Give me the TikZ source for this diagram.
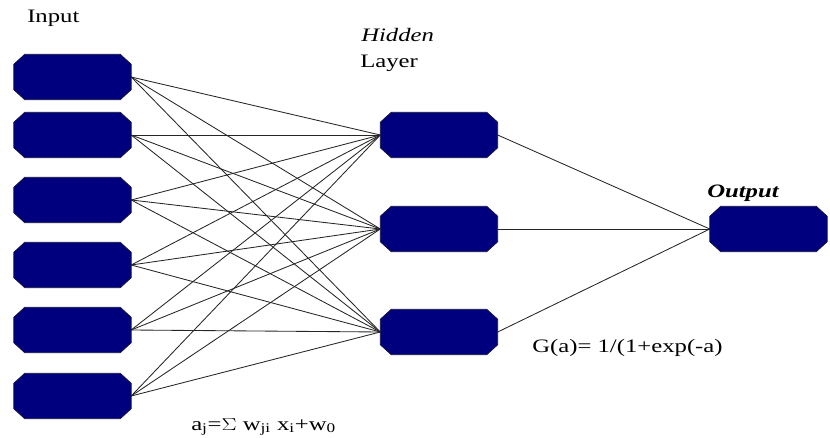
\documentclass[tikz,border=0pt]{standalone}
\usepackage{fontspec}
\setmainfont{Liberation Serif}
\definecolor{cUNIT}{HTML}{00007F}
\definecolor{cEDGE}{HTML}{14143C}
\tikzset{
  unit/.style={
    rectangle,
    inner sep=0pt,
    minimum width=117pt,
    minimum height=45pt
  },
  unitshape/.style={
    draw=cEDGE, line width=0.8pt,
    fill=cUNIT
  },
  link/.style={
    line width=0.85pt,
    draw=black!85
  },
  caption/.style={
    font=\fontsize{19}{22}\selectfont,
    xscale=1.3,
    inner sep=0pt
  }
}

\begin{document}
\begin{tikzpicture}[x=1pt, y=-1pt]
  \useasboundingbox (0,0) rectangle (830,438);

  % input layer
  \node[unit] (in1) at (72.5,77) {};
  \node[unit] (in2) at (72.5,135) {};
  \node[unit] (in3) at (72.5,200) {};
  \node[unit] (in4) at (72.5,265) {};
  \node[unit] (in5) at (72.5,330) {};
  \node[unit] (in6) at (72.5,396) {};

  % hidden layer
  \node[unit] (hid1) at (439,135) {};
  \node[unit] (hid2) at (439,229) {};
  \node[unit] (hid3) at (439,332) {};

  % output
  \node[unit] (out) at (768.5,229) {};

  \foreach \i in {1,...,6}
    \foreach \j in {1,2,3}
      \draw[link] (in\i.east) -- (hid\j.west);
  \foreach \j in {1,2,3}
    \draw[link] (hid\j.east) -- (out.west);

  % chamfered boxes
  \foreach \n in {in1,in2,in3,in4,in5,in6,hid1,hid2,hid3,out}
    \draw[unitshape] ([xshift=11pt]\n.north west) -- ([xshift=-11pt]\n.north east)
      -- ([yshift=-10pt]\n.north east) -- ([yshift=10pt]\n.south east)
      -- ([xshift=-11pt]\n.south east) -- ([xshift=11pt]\n.south west)
      -- ([yshift=10pt]\n.south west) -- ([yshift=-10pt]\n.north west) -- cycle;

  % labels
  \node[caption, anchor=west] (lblin) at (27,18) {Input};
  \node[caption, anchor=west] (lblhid) at (361,35) {\itshape Hidden};
  \node[caption, anchor=west] (lbllay) at (360,63) {Layer};
  \node[caption, anchor=west] (lblout) at (707,193) {\bfseries\itshape Output};
  \node[caption, anchor=west] (lblg) at (532,348) {G(a)= 1/(1+exp(-a)};
  \node[caption, anchor=west] (lbla) at (191,427) {a\textsubscript{j}=\(\Sigma\) w\textsubscript{ji} x\textsubscript{i}+w\textsubscript{0}};
\end{tikzpicture}
\end{document}
